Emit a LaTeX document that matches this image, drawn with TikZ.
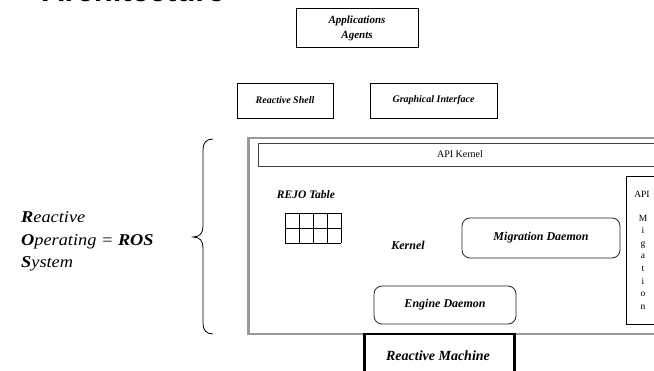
\documentclass[tikz,border=0pt]{standalone}
\usepackage{fontspec}
\setmainfont{Liberation Serif}
\newfontfamily\headfont{Liberation Sans}
\begin{document}
\begin{tikzpicture}[x=1pt,y=-1pt,
  plainbox/.style={draw=black, line width=0.8pt, inner sep=0pt, align=center},
  roundbox/.style={draw=black!85, line width=0.8pt, rounded corners=8pt, inner sep=0pt},
  bi/.style={font=\bfseries\itshape\fontsize{#1}{#1}\selectfont},
  rm/.style={font=\fontsize{#1}{#1}\selectfont, inner sep=0pt},
]
\useasboundingbox (0,0) rectangle (654,371);

% heading, mostly above the page
\node[anchor=base west, inner sep=0pt, font=\headfont\bfseries\fontsize{31}{31}\selectfont] (head) at (42,1.2) {Architecture};

% upper layers
\node[plainbox, minimum width=122pt, minimum height=39pt,
      font=\bfseries\itshape\fontsize{11}{15}\selectfont] (apps) at (357,28) {Applications\\Agents};
\node[plainbox, minimum width=96pt, minimum height=35pt, bi=10] (shell) at (285,100.5) {Reactive Shell};
\node[plainbox, minimum width=127pt, minimum height=35pt, bi=10] (gui) at (433.5,100.5) {Graphical Interface};

% operating system frame
\node[draw=black!40, line width=2.5pt, anchor=north west, minimum width=440pt, minimum height=196pt, inner sep=0pt] (ros) at (247,137) {};
\node[draw=black!75, line width=1pt, anchor=north west, minimum width=420pt, minimum height=23pt, inner sep=0pt] (apik) at (258,143) {};
\node[rm=10] (apiktext) at (460,154.5) {API Kernel};

% kernel contents
\node[bi=11.5] (rejo) at (306,195) {REJO Table};
\foreach \c in {0,...,4} \draw[line width=0.9pt] (285+14*\c,213) -- (285+14*\c,243);
\foreach \r in {0,...,2} \draw[line width=0.9pt] (285,213+15*\r) -- (341,213+15*\r);
\node[bi=12] (kernel) at (408,245) {Kernel};
\node[roundbox, minimum width=158pt, minimum height=40pt, bi=12] (mig) at (541,238) {Migration Daemon};
\node[roundbox, minimum width=142pt, minimum height=38pt, bi=12] (eng) at (445,305) {Engine Daemon};

% migration interface
\node[draw=black, line width=0.8pt, anchor=north west, minimum width=60pt, minimum height=148pt, inner sep=0pt] (apim) at (626,176) {};
\node[rm=9.5] (apimtext) at (642,194) {API};
\node[rm=9.5, align=center, font=\fontsize{9.5}{12.6}\selectfont] (migword) at (643,262) {M\\i\\g\\a\\t\\i\\o\\n};

% hardware layer
\node[draw=black, line width=2.5pt, anchor=north west, minimum width=150pt, minimum height=60pt, inner sep=0pt] (rm) at (363,333) {};
\node[bi=14] (rmtext) at (438,356) {Reactive Machine};

% name of the system and its brace
\node[anchor=west, inner sep=0pt, font=\itshape\fontsize{16.5}{22.5}\selectfont] (rosname) at (21,241)
  {\scalebox{1.11}[1]{\begin{tabular}{@{}l@{}}\textbf{R}eactive\\\textbf{O}perating = \textbf{ROS}\\\textbf{S}ystem\end{tabular}}};
\draw[line width=0.8pt] (213,139) .. controls (206,139) and (203,143) .. (203,150) -- (203,226)
  .. controls (203,233) and (200,237) .. (193,237)
  .. controls (200,237) and (203,241) .. (203,248) -- (203,323)
  .. controls (203,330) and (206,334) .. (213,334);
\end{tikzpicture}
\end{document}
